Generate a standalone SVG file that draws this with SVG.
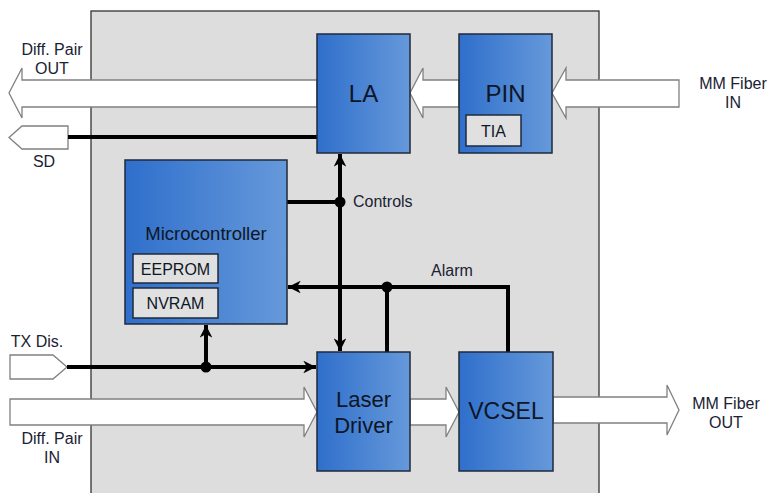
<svg xmlns="http://www.w3.org/2000/svg" width="771" height="493" viewBox="0 0 771 493">
<defs>
<linearGradient id="blue" x1="0" y1="0" x2="1" y2="0">
<stop offset="0" stop-color="#2f6fcb"/>
<stop offset="1" stop-color="#6699da"/>
</linearGradient>
<marker id="ah" viewBox="0 0 10 10" refX="10" refY="5" markerWidth="3.2" markerHeight="3.2" orient="auto-start-reverse" markerUnits="strokeWidth">
<path d="M0,0 L10,5 L0,10 L3,5 z" fill="#000"/>
</marker>
<style>
.blk{fill:url(#blue);stroke:#1e2a3a;stroke-width:1.5}
.sub{fill:#e0e0e0;stroke:#1e2a3a;stroke-width:1.5}
.big{fill:#fff;stroke:#808080;stroke-width:1.3}
.w{stroke:#000;stroke-width:4;fill:none}
.t{font-family:"Liberation Sans",Arial,sans-serif;fill:#0d1626;text-anchor:middle}
.lbl{font-family:"Liberation Sans",Arial,sans-serif;fill:#1a2233;font-size:16px;text-anchor:middle}
.st{text-anchor:start}
</style>
</defs>
<rect x="0" y="0" width="771" height="493" fill="#fff"/>
<rect id="module" x="91" y="11" width="508" height="490" fill="#dddddd" stroke="#333" stroke-width="1.3"/>

<g id="arrows">
<polygon class="big" points="317,80 22,80 22,68 9,93 22,118 22,107 317,107"/>
<polygon class="big" points="459,80 423,80 423,68 410,93 423,118 423,107 459,107"/>
<polygon class="big" points="679,80 566,80 566,68 552,93 566,118 566,107 679,107"/>
<polygon class="big" points="10,399 304,399 304,387 317,412 304,437 304,425 10,425"/>
<polygon class="big" points="410,399 446,399 446,387 459,412 446,437 446,425 410,425"/>
<polygon class="big" points="553,397 667,397 667,385 679,410 667,435 667,423 553,423"/>
<polygon class="big" points="68,126 22,126 9,137.5 22,149 68,149"/>
<polygon class="big" points="10,355 53,355 67,367 53,379 10,379"/>
</g>

<g id="connectors">
<line class="w" x1="68" y1="137" x2="317" y2="137"/>
<line class="w" x1="67" y1="367" x2="316" y2="367" marker-end="url(#ah)"/>
<line class="w" x1="206" y1="367" x2="206" y2="325" marker-end="url(#ah)"/>
<line class="w" x1="340" y1="154" x2="340" y2="351" marker-start="url(#ah)" marker-end="url(#ah)"/>
<line class="w" x1="287" y1="202" x2="340" y2="202"/>
<polyline class="w" points="508,352 508,287 288,287" marker-end="url(#ah)"/>
<line class="w" x1="387" y1="287" x2="387" y2="352"/>
<circle cx="340" cy="202" r="5.5" fill="#000"/>
<circle cx="387" cy="287" r="5.5" fill="#000"/>
<circle cx="206" cy="367" r="5.5" fill="#000"/>
</g>

<g id="LA">
<rect class="blk" x="317" y="34" width="93" height="119"/>
<text class="t" x="363.5" y="102" font-size="24">LA</text>
</g>
<g id="PIN">
<rect class="blk" x="459" y="34" width="93" height="119"/>
<text class="t" x="505.5" y="102" font-size="24">PIN</text>
<rect class="sub" x="466" y="115" width="55" height="31"/>
<text class="t" x="493.5" y="137" font-size="16">TIA</text>
</g>
<g id="Microcontroller">
<rect class="blk" x="125" y="160" width="162" height="164"/>
<text class="t" x="206" y="240" font-size="18.5">Microcontroller</text>
<rect class="sub" x="133" y="254" width="85" height="29"/>
<text class="t" x="175.5" y="275" font-size="16">EEPROM</text>
<rect class="sub" x="133" y="288" width="85" height="30"/>
<text class="t" x="175.5" y="309" font-size="16">NVRAM</text>
</g>
<g id="LaserDriver">
<rect class="blk" x="317" y="352" width="93" height="119"/>
<text class="t" x="363.5" y="407" font-size="22">Laser</text>
<text class="t" x="363.5" y="433" font-size="22">Driver</text>
</g>
<g id="VCSEL">
<rect class="blk" x="459" y="352" width="94" height="119"/>
<text class="t" x="506" y="419" font-size="23">VCSEL</text>
</g>

<g id="labels">
<text class="lbl" x="52" y="55">Diff. Pair</text>
<text class="lbl" x="52" y="74">OUT</text>
<text class="lbl" x="44" y="167">SD</text>
<text class="lbl" x="37" y="347">TX Dis.</text>
<text class="lbl" x="52" y="444">Diff. Pair</text>
<text class="lbl" x="52" y="463">IN</text>
<text class="lbl" x="733" y="89">MM Fiber</text>
<text class="lbl" x="733" y="108">IN</text>
<text class="lbl" x="726" y="409">MM Fiber</text>
<text class="lbl" x="726" y="428">OUT</text>
<text class="lbl st" x="353" y="207">Controls</text>
<text class="lbl st" x="431" y="276">Alarm</text>
</g>
</svg>
